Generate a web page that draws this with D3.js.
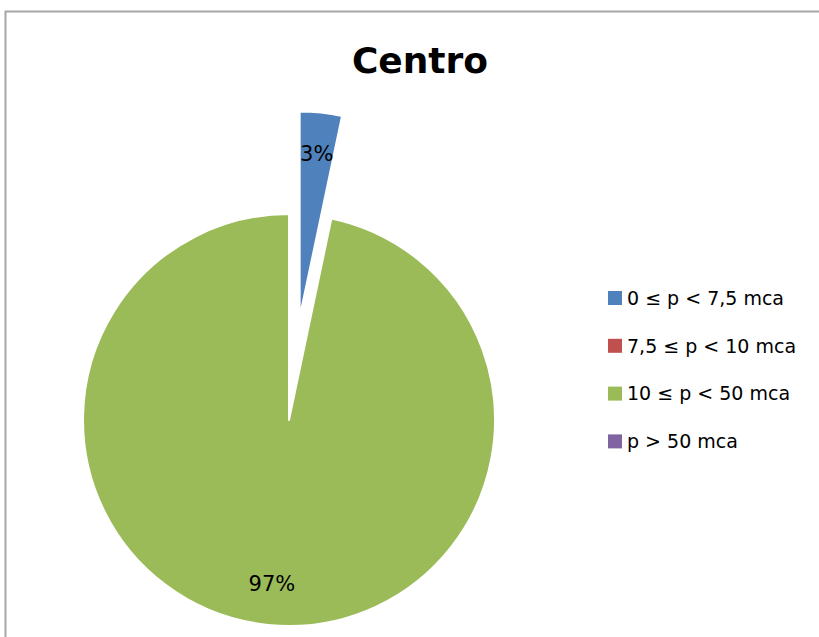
<!DOCTYPE html>
<html>
<head>
<meta charset="utf-8">
<script src="https://cdn.jsdelivr.net/npm/d3@7"></script>
<style>
  html, body { margin: 0; padding: 0; background: #fff; }
  svg { display: block; }
</style>
</head>
<body>
<svg id="chart" width="819" height="637"></svg>
<script>
// data
const categories = ['0 ≤ p < 7,5 mca', '7,5 ≤ p < 10 mca', '10 ≤ p < 50 mca', 'p > 50 mca']
const values = [3.3, 0, 96.7, 0]
const colors = ['#4F81BD', '#C0504D', '#9BBB59', '#8064A2']
const labels = ['3%', '', '97%', '']
const title = 'Centro'

const width = 819, height = 637
const svg = d3.select('#chart')
const font = '"DejaVu Sans", Verdana, sans-serif'

// chart frame (right and bottom edges sit outside the picture)
svg.append('rect')
  .attr('x', 5.5).attr('y', 11.5)
  .attr('width', width + 40).attr('height', height + 40)
  .attr('fill', '#fff')
  .attr('stroke', '#a6a6a6')
  .attr('stroke-width', 2)

svg.append('text')
  .attr('x', 420).attr('y', 73)
  .attr('text-anchor', 'middle')
  .attr('font-family', font)
  .attr('font-weight', 'bold')
  .attr('font-size', 36)
  .attr('fill', '#000')
  .text(title)

const cx = 289, cy = 420, r = 206
const explode = 103 // blue slice pulled out

const data = categories.map((c, i) => ({ name: c, value: values[i], color: colors[i], label: labels[i] }))
const pie = d3.pie().sort(null).value(d => d.value)
const arcs = pie(data)
const arc = d3.arc().innerRadius(0).outerRadius(r)

const g = svg.append('g').attr('transform', `translate(${cx},${cy})`)

const slices = g.selectAll('g.slice')
  .data(arcs.filter(d => d.data.value > 0))
  .join('g')
  .attr('class', 'slice')
  .attr('transform', d => {
    if (d.index !== 0) return null
    const a = (d.startAngle + d.endAngle) / 2
    return `translate(${explode * Math.sin(a)},${-explode * Math.cos(a)})`
  })

slices.append('path')
  .attr('d', arc)
  .attr('fill', d => d.data.color)
  .attr('stroke', '#fff')
  .attr('stroke-width', 2)
  .attr('stroke-linejoin', 'round')

const labelArc = d3.arc().innerRadius(r * 0.8).outerRadius(r * 0.8)
slices.append('text')
  .attr('transform', d => `translate(${labelArc.centroid(d)})`)
  .attr('text-anchor', 'middle')
  .attr('dy', '0.35em')
  .attr('font-family', font)
  .attr('font-size', 21)
  .attr('fill', '#000')
  .text(d => d.data.label)

// legend
const legend = svg.append('g').attr('transform', 'translate(608,298)')
const rows = legend.selectAll('g')
  .data(data)
  .join('g')
  .attr('transform', (d, i) => `translate(0,${i * 47.8})`)
rows.append('rect')
  .attr('x', 0).attr('y', -7)
  .attr('width', 14).attr('height', 14)
  .attr('fill', d => d.color)
rows.append('text')
  .attr('x', 19).attr('dy', '0.36em')
  .attr('font-family', font)
  .attr('font-size', 19)
  .attr('fill', '#000')
  .text(d => d.name)
</script>
</body>
</html>
